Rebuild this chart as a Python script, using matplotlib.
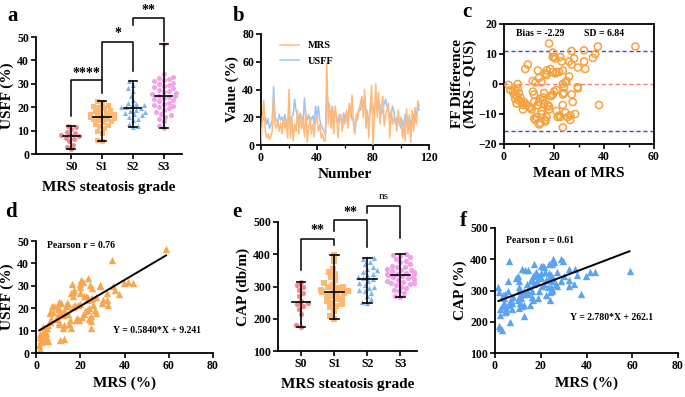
import numpy as np
import matplotlib
matplotlib.use("Agg")
import matplotlib.pyplot as plt
import seaborn as sns
import warnings
warnings.filterwarnings("ignore")

plt.rcParams['font.family'] = ['Liberation Serif', 'DejaVu Serif']
plt.rcParams['font.weight'] = 'bold'
plt.rcParams['axes.labelweight'] = 'bold'

# ---------------- data ----------------
grades = ["S0", "S1", "S2", "S3"]
usff_s0 = [12, 11.5, 10.5, 9.5, 9, 8, 8, 7.5, 7, 6.5, 5.5, 4, 3, 2]
usff_s1 = [22.5, 22, 21, 20.5, 20, 19.5, 19, 18.5, 18, 17.5, 17, 17, 16.5, 16.5, 16, 16,
           15.5, 15, 15, 14.5, 14, 13.5, 13, 12.5, 12, 11, 10, 9, 6, 5.5]
usff_s2 = [31, 29.5, 28, 27, 25, 23, 22, 21.5, 21, 20.5, 20, 20, 19.5, 19, 18.5, 18, 17.5,
           17, 16.5, 16, 15, 14.5, 13, 12, 11.5]
usff_s3 = [47, 34, 33, 32.5, 32, 31.5, 31, 30.5, 30, 29.5, 29, 28.5, 28, 27.5, 27, 26.5, 26,
           25.5, 25, 25, 24.5, 24, 23.5, 23, 22.5, 22, 21.5, 21, 20.5, 20, 19.5, 19, 18, 17,
           16.5, 16, 15, 14, 12, 11]

cap_s0 = [315, 305, 300, 290, 280, 270, 255, 248, 245, 240, 230, 215, 180, 175]
cap_s1 = [398, 380, 355, 345, 340, 330, 320, 310, 305, 300, 298, 295, 290, 288, 285, 282,
          280, 278, 275, 270, 265, 260, 255, 250, 245, 240, 235, 225, 210, 200]
cap_s2 = [388, 385, 375, 370, 360, 355, 350, 345, 340, 335, 330, 325, 322, 318, 310, 305,
          300, 295, 290, 285, 280, 270, 260, 252, 248]
cap_s3 = [400, 398, 395, 390, 385, 380, 375, 370, 365, 362, 360, 355, 352, 350, 348, 345,
          342, 340, 340, 338, 335, 332, 330, 328, 325, 322, 320, 318, 315, 312, 310, 308,
          305, 300, 295, 290, 285, 280, 272, 268]

# panel b sequences (patient order)
seq_mrs = [1, 20, 32, 10, 5, 8, 4, 6, 10, 35, 15, 12, 18, 10, 16, 8, 20, 12, 18, 5,
           40, 5, 20, 3, 15, 10, 25, 8, 22, 12, 18, 6, 25, 2, 12, 20, 8, 15, 6, 18,
           20, 10, 15, 5, 8, 3, 3, 59, 15, 30, 12, 25, 8, 28, 20, 5, 18, 22, 10, 20,
           15, 25, 12, 30, 20, 36, 15, 8, 22, 18, 25, 30, 35, 20, 40, 12, 25, 5, 28, 43,
           0, 20, 44, 20, 38, 15, 28, 35, 14, 22, 25, 30, 5, 25, 15, 20, 18, 10, 25, 14,
           20, 5, 15, 3, 26, 8, 22, 2, 25, 10, 27, 15, 32, 28]
seq_usff = [15, 21, 18, 20, 15, 19, 12, 14, 18, 42, 20, 18, 16, 22, 18, 20, 15, 22, 17, 12,
            30, 12, 20, 22, 33, 25, 22, 18, 23, 20, 15, 34, 20, 18, 22, 16, 19, 21, 15, 28,
            20, 28, 18, 14, 12, 10, 8, 36, 30, 25, 20, 28, 18, 25, 20, 16, 22, 19, 15, 23,
            19, 22, 20, 27, 25, 18, 20, 10, 18, 22, 26, 25, 30, 28, 35, 25, 20, 18, 25, 30,
            22, 30, 28, 25, 32, 28, 22, 25, 30, 33, 28, 25, 20, 22, 28, 24, 15, 20, 18, 15,
            12, 18, 12, 22, 15, 20, 12, 18, 15, 22, 18, 20, 28, 25]

# paired patient data (MRS, USFF, CAP)
mrs = [1.7, 1.5, 2.3, 2.3, 2.0, 3.0, 3.5, 1.8, 5.5, 4.8, 4.5, 4.3, 3.3, 4.0, 4.0, 3.3, 5.0,
       11.0, 12.8, 5.5, 6.3, 6.5, 6.8, 12.0, 10.3, 10.3, 12.8, 9.0, 6.3, 6.5, 7.5, 15.8, 15.0,
       11.0, 10.0, 12.0, 8.0, 7.3, 10.5, 10.0, 13.3, 12.8, 12.8, 15.3, 14.5, 10.5, 10.3, 11.5,
       18.3, 18.5, 19.3, 14.0, 14.3, 13.8, 24.8, 21.0, 16.5, 17.0, 17.8, 24.8, 24.0, 24.5,
       24.8, 23.0, 21.5, 22.3, 18.8, 20.0, 16.5, 16.0, 16.8, 17.0, 27.0, 26.8, 24.0, 25.8,
       23.5, 23.5, 22.5, 21.8, 24.8, 25.5, 27.3, 20.0, 16.3, 19.8, 20.0, 21.3, 20.5, 29.8,
       32.5, 30.3, 25.3, 24.5, 32.3, 23.5, 32.3, 29.0, 28.8, 37.6, 35.8, 35.0, 39.9, 41.5,
       43.8, 34.5, 58.8]
usff = [2.0, 3.5, 4.8, 5.8, 7.0, 7.0, 5.5, 8.3, 5.5, 6.3, 7.5, 8.8, 8.8, 10.0, 11.0, 11.8, 11.0,
        6.0, 6.3, 12.5, 13.8, 14.5, 15.3, 11.0, 12.8, 13.8, 12.3, 15.0, 17.8, 18.5, 18.5, 11.3,
        13.0, 17.0, 17.0, 17.0, 21.0, 20.8, 19.5, 20.0, 17.8, 18.3, 19.3, 14.8, 17.5, 22.5, 22.8,
        22.5, 14.8, 15.5, 14.8, 21.0, 21.8, 22.3, 11.3, 16.0, 20.5, 21.0, 21.3, 14.3, 15.0, 15.5,
        16.3, 19.0, 17.5, 18.8, 21.3, 22.0, 25.5, 27.0, 27.3, 28.0, 18.0, 19.3, 20.0, 21.3,
        23.5, 24.5, 25.5, 25.3, 24.3, 24.5, 24.8, 27.0, 30.8, 29.3, 31.0, 31.8, 32.5, 22.3,
        21.5, 23.8, 28.8, 30.5, 23.8, 33.5, 26.8, 30.0, 30.3, 26.4, 28.3, 30.0, 31.2, 31.5,
        31.3, 41.5, 46.3]
cap = [185, 312, 180, 240, 222, 175, 255, 295, 300, 245, 290, 230, 285, 260, 275, 250, 235,
       285, 220, 330, 395, 200, 270, 370, 275, 330, 300, 340, 255, 265, 260, 335, 310,
       260, 345, 250, 280, 240, 300, 270, 365, 290, 255, 255, 290, 310, 245, 275,
       350, 330, 300, 300, 365, 320, 385, 380, 270, 385, 360, 330, 295, 350,
       305, 310, 320, 285, 275, 340, 330, 280, 345, 320, 360, 320, 270, 390,
       340, 355, 335, 360, 300, 400, 315, 380, 300, 345, 355, 375, 315, 395,
       370, 345, 340, 310, 335, 385, 315, 400, 330, 290, 350, 370, 345, 360,
       358, 320, 362]

bias = -2.29
sd = 6.84
slope_d, icpt_d, r_d = 0.5840, 9.241, 0.76
slope_f, icpt_f, r_f = 2.780, 262.1, 0.61

# colours
c_s0 = "#F4888B"
c_s1 = "#FFB872"
c_s2 = "#7FB4F2"
c_s3 = "#F4A0E8"
c_orange = "#FFB97A"
c_blue = "#9CC4F4"
c_ring = "#F7A03A"
c_tri_o = "#F9A74E"
c_tri_b = "#5AA2F2"

fig = plt.figure(figsize=(6.85, 3.97), dpi=100)
W, H = 685, 397


def add_ax(l, r, t, b):
    return fig.add_axes([l / W, (H - b) / H, (r - l) / W, (b - t) / H])


def style(ax, box=False):
    for s in ["left", "bottom"]:
        ax.spines[s].set_linewidth(1.3)
    if box:
        for s in ["top", "right"]:
            ax.spines[s].set_linewidth(1.3)
    else:
        ax.spines["top"].set_visible(False)
        ax.spines["right"].set_visible(False)
    ax.tick_params(which="major", direction="out", length=3.5, width=1.2, labelsize=8.5, pad=1.5)
    ax.tick_params(which="minor", direction="out", length=2.5, width=1.0)
    for lab in ax.get_xticklabels() + ax.get_yticklabels():
        lab.set_fontweight("bold")


LBL = 11


def dot_panel(ax, groups, colors, markers, ylim, yticks, ylabel, brackets, msize):
    for i, (vals, col, mk) in enumerate(zip(groups, colors, markers)):
        sns.swarmplot(x=np.full(len(vals), float(i)), y=vals, native_scale=True, ax=ax,
                      color=col, marker=mk, size=msize, linewidth=0, zorder=2, warn_thresh=1)
        v = np.array(vals)
        med = np.median(v)
        ax.plot([i - 0.28, i + 0.28], [med, med], color="black", lw=1.2, zorder=3)
        ax.plot([i, i], [v.min(), v.max()], color="black", lw=1.2, zorder=3)
        for yy in (v.min(), v.max()):
            ax.plot([i - 0.13, i + 0.13], [yy, yy], color="black", lw=1.2, zorder=3)
    for (x0, x1, yl, yr, ytop, txt, ty) in brackets:
        ax.plot([x0, x0, x1, x1], [yl, ytop, ytop, yr], color="black", lw=1.1, clip_on=False)
        fs = 8 if txt == "ns" else 10
        fw = "normal" if txt == "ns" else "bold"
        ax.text((x0 + x1) / 2, ty, txt, ha="center", va="center", fontsize=fs, fontweight=fw,
                clip_on=False)
    ax.set_ylim(*ylim)
    ax.set_yticks(yticks)
    ax.set_xticks(range(4))
    ax.set_xticklabels(grades)
    ax.set_ylabel(ylabel, fontsize=LBL, fontweight="bold", labelpad=2)
    ax.set_xlabel("MRS steatosis grade", fontsize=LBL, fontweight="bold", labelpad=6)


# ---------------- panel a ----------------
ax_a = add_ax(36, 182, 37, 154)
dot_panel(ax_a, [usff_s0, usff_s1, usff_s2, usff_s3], [c_s0, c_s1, c_s2, c_s3],
          ["o", "s", "^", "o"], (0, 50), [0, 10, 20, 30, 40, 50], "USFF (%)",
          [(0, 1, 16.3, 26, 31.7, "****", 34.5),
           (1, 2, 31.7, 35.5, 47.8, "*", 51.5),
           (2, 3, 55.3, 48.3, 58.0, "**", 61.3)], 3.6)
ax_a.set_xlim(-1.15, 3.6)
style(ax_a)

# ---------------- panel b ----------------
ax_b = add_ax(261, 429, 34, 145)
idx = np.arange(len(seq_mrs))
ax_b.plot(idx, seq_mrs, color=c_orange, lw=1.1, label="MRS", zorder=3)
ax_b.plot(np.arange(len(seq_usff)), seq_usff, color=c_blue, lw=1.1, label="USFF", zorder=2)
ax_b.set_xlim(0, 120)
ax_b.set_ylim(0, 80)
ax_b.set_xticks([0, 40, 80, 120])
ax_b.set_xticks([20, 60, 100], minor=True)
ax_b.set_yticks([0, 20, 40, 60, 80])
ax_b.set_xlabel("Number", fontsize=LBL, fontweight="bold", labelpad=3)
ax_b.set_ylabel("Value (%)", fontsize=LBL, fontweight="bold", labelpad=2)
leg = ax_b.legend(loc="upper left", frameon=False, fontsize=7.5, handlelength=1.8,
                  bbox_to_anchor=(0.06, 1.02), labelspacing=0.6)
for t in leg.get_texts():
    t.set_fontweight("bold")
style(ax_b)

# ---------------- panel c ----------------
ax_c = add_ax(504, 654, 24, 144)
m_arr = (np.array(mrs) + np.array(usff)) / 2
d_arr = np.array(mrs) - np.array(usff)
ax_c.scatter(m_arr, d_arr, s=26, facecolors="none", edgecolors=c_ring, linewidths=1.1, zorder=3)
ax_c.axhline(0, color="#F08080", ls=(0, (3, 2)), lw=1.0, zorder=2)
ax_c.axhline(bias + 1.96 * sd, color="#4040F0", ls=(0, (3, 2)), lw=1.0, zorder=2)
ax_c.axhline(bias - 1.96 * sd, color="#4040F0", ls=(0, (3, 2)), lw=1.0, zorder=2)
ax_c.set_xlim(0, 60)
ax_c.set_ylim(-20, 20)
ax_c.set_xticks([0, 20, 40, 60])
ax_c.set_xticks([10, 30, 50], minor=True)
ax_c.set_yticks([-20, -10, 0, 10, 20])
ax_c.text(5, 17, f"Bias = {bias:.2f}", fontsize=7, fontweight="bold", va="center")
ax_c.text(32, 17, f"SD = {sd:.2f}", fontsize=7, fontweight="bold", va="center")
ax_c.set_xlabel("Mean of MRS", fontsize=LBL, fontweight="bold", labelpad=3)
ax_c.set_ylabel("FF Difference\n(MRS - QUS)", fontsize=LBL, fontweight="bold", labelpad=1,
                linespacing=1.0)
style(ax_c, box=True)

# ---------------- panel d ----------------
ax_d = add_ax(36, 213, 241, 353)
ax_d.scatter(mrs, usff, marker="^", s=28, color=c_tri_o, linewidths=0, zorder=2)
xs = np.array([min(mrs), max(mrs)])
ax_d.plot(xs, slope_d * xs + icpt_d, color="black", lw=1.4, zorder=3)
ax_d.set_xlim(0, 80)
ax_d.set_ylim(0, 50)
ax_d.set_xticks([0, 20, 40, 60, 80])
ax_d.set_yticks([0, 10, 20, 30, 40, 50])
ax_d.text(5, 48, f"Pearson r = {r_d:.2f}", fontsize=7, fontweight="bold", va="center")
ax_d.text(35, 10, f"Y = {slope_d:.4f}*X + {icpt_d:.3f}", fontsize=7, fontweight="bold",
          va="center")
ax_d.set_xlabel("MRS (%)", fontsize=LBL, fontweight="bold", labelpad=3)
ax_d.set_ylabel("USFF (%)", fontsize=LBL, fontweight="bold", labelpad=2)
style(ax_d)

# ---------------- panel e ----------------
ax_e = add_ax(278, 417, 222, 351)
dot_panel(ax_e, [cap_s0, cap_s1, cap_s2, cap_s3], [c_s0, c_s1, c_s2, c_s3],
          ["o", "s", "^", "o"], (100, 500), [100, 200, 300, 400, 500], "CAP (db/m)",
          [(0, 1, 350, 428, 448.5, "**", 474),
           (1, 2, 471, 423, 505, "**", 529),
           (2, 3, 529, 450.6, 549, "ns", 578)], 3.8)
ax_e.set_xlim(-0.7, 3.5)
style(ax_e)

# ---------------- panel f ----------------
ax_f = add_ax(495, 678, 228, 353)
ax_f.scatter(mrs, cap, marker="^", s=28, color=c_tri_b, linewidths=0, zorder=2)
ax_f.plot(xs, slope_f * xs + icpt_f, color="black", lw=1.4, zorder=3)
ax_f.set_xlim(0, 80)
ax_f.set_ylim(100, 500)
ax_f.set_xticks([0, 20, 40, 60, 80])
ax_f.set_yticks([100, 200, 300, 400, 500])
ax_f.text(5, 460, f"Pearson r = {r_f:.2f}", fontsize=7, fontweight="bold", va="center")
ax_f.text(33, 215, f"Y = {slope_f:.3f}*X + {icpt_f:.1f}", fontsize=7, fontweight="bold",
          va="center")
ax_f.set_xlabel("MRS (%)", fontsize=LBL, fontweight="bold", labelpad=3)
ax_f.set_ylabel("CAP (%)", fontsize=LBL, fontweight="bold", labelpad=2)
style(ax_f)

# panel letters
for ch, x, y in [("a", 7, 16), ("b", 233, 16), ("c", 462, 12), ("d", 5, 212),
                 ("e", 232, 212), ("f", 460, 221)]:
    fig.text(x / W, 1 - y / H, ch, fontsize=15, fontweight="bold", ha="left", va="center")

fig.savefig("out.png", dpi=100)
